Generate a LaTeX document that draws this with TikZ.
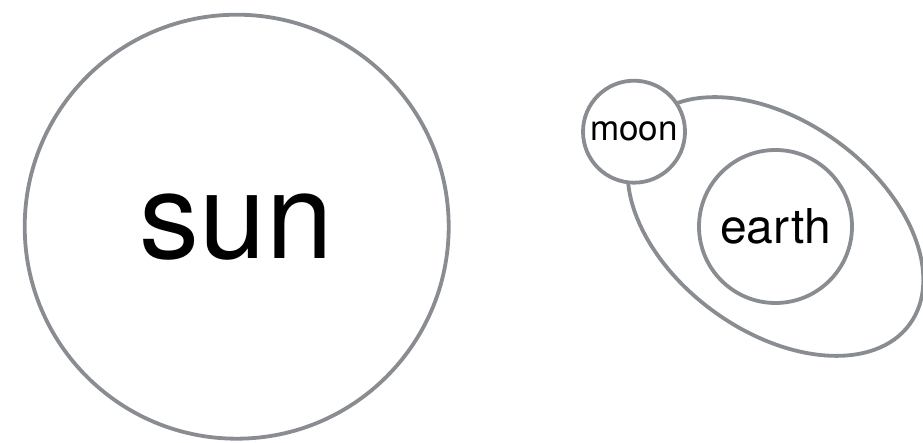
\documentclass[tikz,border=0pt]{standalone}
\usepackage{fontspec}
\setmainfont{TeX Gyre Heros}
\usetikzlibrary{backgrounds}
\definecolor{ringgray}{RGB}{137,140,144}

\begin{document}
\begin{tikzpicture}[
        x=1pt, y=1pt,
        body/.style={circle, draw=ringgray, line width=3.8pt, fill=white, inner sep=0pt, align=center},
        orbit/.style={draw=ringgray, line width=3.8pt}
    ]
        \useasboundingbox (0,0) rectangle (923,443);

        \node[body, minimum size=424pt, font=\fontsize{120}{120}\selectfont] (sun) at (236.7,216.3) {sun};
        \node[body, minimum size=153pt, font=\fontsize{48}{48}\selectfont] (earth) at (775.5,216.5) {earth};
        \node[body, minimum size=102pt, font=\fontsize{35}{35}\selectfont] (moon) at (634,311.3) {moon};

        % orbit of the moon round the earth
        \begin{scope}[on background layer]
            \draw[orbit, rotate around={-36:(earth.center)}] (earth.center) ellipse [x radius=166, y radius=105];
        \end{scope}

\end{tikzpicture}
\end{document}
